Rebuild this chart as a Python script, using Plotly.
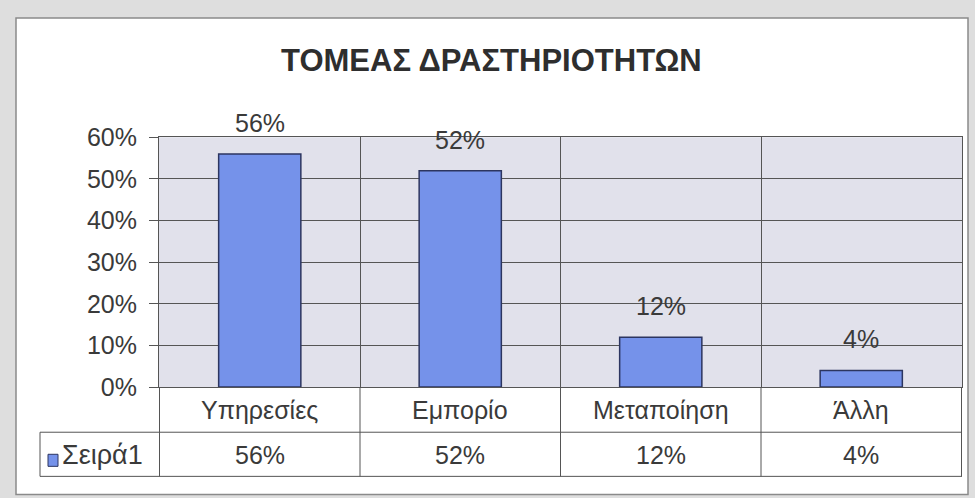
import plotly.graph_objects as go

title = "ΤΟΜΕΑΣ ΔΡΑΣΤΗΡΙΟΤΗΤΩΝ"
categories = ["Υπηρεσίες", "Εμπορίο", "Μεταποίηση", "Άλλη"]
values = [0.56, 0.52, 0.12, 0.04]
series_name = "Σειρά1"
y_ticks = [0, 0.1, 0.2, 0.3, 0.4, 0.5, 0.6]

W, H = 975, 498
FONT = "Liberation Sans, Arial, sans-serif"
TXT = "#3a3a3a"
FS = 25

def px(x):
    return x / W

def py(t):
    y = (t - 15) / 0.941
    return 1 - y / H

# layout geometry (target pixels)
PL, PR, PT, PB = 159, 962, 138, 387
ROW1, ROW2 = 432, 476
TL = 40
CH_L, CH_T, CH_R, CH_B = 16, 19, 968, 494

fig = go.Figure()
fig.add_trace(go.Bar(
    x=categories, y=values, name=series_name,
    marker=dict(color="#7592ea", line=dict(color="#2c3560", width=1.5)),
    width=0.41, showlegend=False,
))

shapes = []
shapes.append(dict(type="rect", xref="paper", yref="paper",
                   x0=px(CH_L), x1=px(CH_R), y0=py(CH_B), y1=py(CH_T),
                   fillcolor="white", line=dict(color="#8a8a8a", width=1.5), layer="below"))
shapes.append(dict(type="rect", xref="paper", yref="paper",
                   x0=px(PL), x1=px(PR), y0=py(PB), y1=py(PT),
                   fillcolor="#e1e1eb", line=dict(width=0), layer="below"))
lc = dict(color="#555555", width=1)
shapes.append(dict(type="line", xref="paper", yref="paper", x0=px(TL), x1=px(PR),
                   y0=py(ROW1), y1=py(ROW1), line=lc))
shapes.append(dict(type="line", xref="paper", yref="paper", x0=px(TL), x1=px(PR),
                   y0=py(ROW2), y1=py(ROW2), line=lc))
shapes.append(dict(type="line", xref="paper", yref="paper", x0=px(TL), x1=px(TL),
                   y0=py(ROW2), y1=py(ROW1), line=lc))
for i in range(len(categories) + 1):
    shapes.append(dict(type="line", xref="x", yref="paper", x0=i - 0.5, x1=i - 0.5,
                       y0=py(ROW2), y1=py(PB), line=lc))
shapes.append(dict(type="rect", xref="paper", yref="paper",
                   x0=px(48), x1=px(58), y0=py(466), y1=py(454),
                   fillcolor="#7592ea", line=dict(color="#2c3560", width=1)))

ann = []
ann.append(dict(text=title, x=px(492), y=py(61), xref="paper", yref="paper",
                showarrow=False, xanchor="center", yanchor="middle",
                font=dict(family=FONT, size=31, color="#2e2e2e", weight="bold")))
for c, v in zip(categories, values):
    ann.append(dict(text=f"{v:.0%}", x=c, y=v, xref="x", yref="y", showarrow=False,
                    xanchor="center", yanchor="bottom", yshift=15,
                    font=dict(family=FONT, size=FS, color=TXT)))
    ann.append(dict(text=c, x=c, y=py((PB + ROW1) / 2), xref="x", yref="paper",
                    showarrow=False, xanchor="center", yanchor="middle",
                    font=dict(family=FONT, size=FS, color=TXT)))
    ann.append(dict(text=f"{v:.0%}", x=c, y=py((ROW1 + ROW2) / 2 + 1), xref="x", yref="paper",
                    showarrow=False, xanchor="center", yanchor="middle",
                    font=dict(family=FONT, size=FS, color=TXT)))
ann.append(dict(text=series_name, x=px(60), y=py((ROW1 + ROW2) / 2 + 1), xref="paper",
                yref="paper", showarrow=False, xanchor="left", yanchor="middle",
                font=dict(family=FONT, size=27, color=TXT)))

fig.update_layout(
    width=W, height=H,
    autosize=False,
    margin=dict(l=0, r=0, t=0, b=0),
    paper_bgcolor="#dedede",
    plot_bgcolor="#e1e1eb",
    shapes=shapes,
    annotations=ann,
    xaxis=dict(domain=[px(PL), px(PR)], type="category", tickson="boundaries",
               showgrid=True, gridcolor="#555555", gridwidth=1,
               showticklabels=False, ticks="", showline=True, linecolor="#555555",
               mirror=True, zeroline=False),
    yaxis=dict(domain=[py(PB), py(PT)], range=[0, 0.6], tickvals=y_ticks,
               tickformat=".0%", showgrid=True, gridcolor="#555555", gridwidth=1,
               ticks="outside", ticklen=9, tickcolor="#555555", ticklabelstandoff=7,
               tickfont=dict(family=FONT, size=FS, color=TXT),
               showline=True, linecolor="#555555", zeroline=False, mirror=True),
)

fig.write_html("out.html", config={"displayModeBar": False},
               post_script="document.body.style.margin='0';document.body.style.overflow='hidden';")
